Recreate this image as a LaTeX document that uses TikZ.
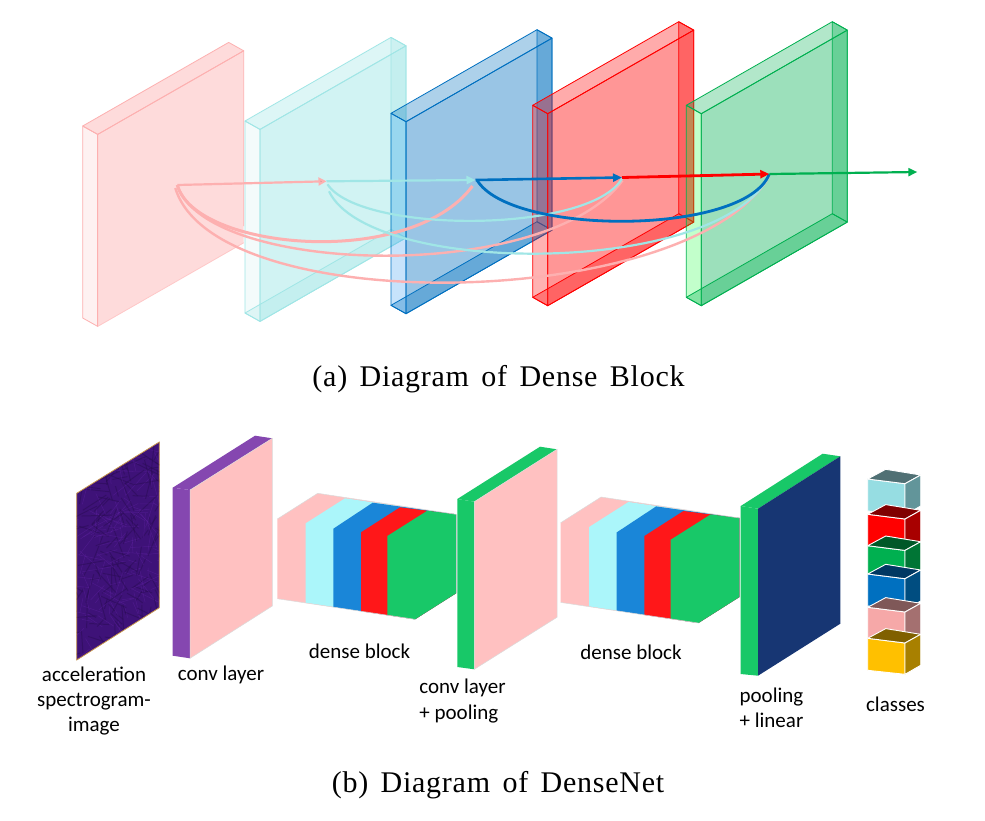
\documentclass[tikz,border=0pt]{standalone}
\usepackage{fontspec}
\usetikzlibrary{arrows.meta}
\setmainfont{Liberation Serif}
\newfontfamily\capfont[LetterSpace=2.5,WordSpace=1.5]{Liberation Serif}
\newfontfamily\labfont{Carlito}
\definecolor{cPink}{HTML}{FDB0B0}
\definecolor{cCyan}{HTML}{A0E6E6}
\definecolor{cBlue}{HTML}{0070C0}
\definecolor{cBlueL}{HTML}{0082F0}
\definecolor{cRed}{HTML}{FF0000}
\definecolor{cGreen}{HTML}{00B050}
\definecolor{bPink}{HTML}{FFC1C1}
\definecolor{bCyan}{HTML}{ABF6FA}
\definecolor{bBlue}{HTML}{1A86D8}
\definecolor{bRed}{HTML}{FF1719}
\definecolor{bGreen}{HTML}{18C868}
\definecolor{bPurple}{HTML}{8547B0}
\definecolor{bNavy}{HTML}{173673}
\definecolor{bSpec}{HTML}{3E1278}
\definecolor{bSpecLine}{HTML}{6424A8}
\definecolor{bSpecDark}{HTML}{2A0C54}
\definecolor{bSpecEdge}{HTML}{C8964A}
\tikzset{
  labeltext/.style={font=\labfont\fontsize{21}{25.5}\selectfont,align=center,inner sep=0pt,text=black},
  captiontext/.style={font=\capfont\fontsize{30}{34}\selectfont,inner sep=0pt,text=black},
  flatedge/.style={draw=black!14,line width=.5pt},
  hopline/.style={line width=2.2pt,-{Triangle[length=9pt,width=8pt]}},
  arcline/.style={line width=2pt},
  cubeedge/.style={draw=white,line width=.9pt,line join=round}
}
% x y stroke fill leftfill aleft atop afront
\newcommand\slab[8]{%
\begin{scope}[shift={(#1,#2)},draw=#3,line width=.8pt,line join=round]
 \path[draw,fill=#5,fill opacity=#6] (0,0)--(15,8.4)--(15,200.4)--(0,192)--cycle;
 \path[draw,fill=#4,fill opacity=#7] (0,0)--(146,-83.6)--(161,-75.2)--(15,8.4)--cycle;
 \path[draw,fill=#4,fill opacity=#8] (15,8.4)--(161,-75.2)--(161,116.8)--(15,200.4)--cycle;
\end{scope}}
% x y stroke fill aextra
\newcommand\slabextra[5]{%
\begin{scope}[shift={(#1,#2)},draw=#3,line width=.8pt,line join=round]
 \path[draw,fill=#4,fill opacity=#5] (146,-83.6)--(161,-75.2)--(161,116.8)--(146,108.4)--cycle;
 \path[draw,fill=#4,fill opacity=#5] (0,192)--(15,200.4)--(161,116.8)--(146,108.4)--cycle;
\end{scope}}
\newcommand\denseblock[2]{%
\begin{scope}[shift={(#1,#2)}]
 \fill[bPink] (277.3,519)--(317.7,493.3)--(456,514.3)--(456,593.3)--(415,619.3)--(277.3,598.7)--cycle;
 \fill[bCyan] (305.7,523.3)--(345,498.3)--(456,514.3)--(456,593.3)--(415,619.3)--(305.7,602.7)--cycle;
 \fill[bBlue] (333.3,528.7)--(372.7,502.7)--(456,514.3)--(456,593.3)--(415,619.3)--(333.3,607)--cycle;
 \fill[bRed] (361,532.3)--(400,507.3)--(456,514.3)--(456,593.3)--(415,619.3)--(361,611.3)--cycle;
 \fill[bGreen] (387.3,536)--(427.3,510.7)--(456,514.3)--(456,593.3)--(415,619.3)--(387.3,615)--cycle;
 \path[flatedge] (277.3,519)--(317.7,493.3)--(456,514.3) (415,619.3)--(277.3,598.7)--cycle;
\end{scope}}
% y front top side
\newcommand\classcube[4]{%
\begin{scope}[shift={(0,#1)}]
 \path[fill=#2,cubeedge] (867.7,0)--(905,4.7)--(905,36)--(867.7,32)--cycle;
 \path[fill=#3,cubeedge] (867.7,0)--(885.7,-9.7)--(920.7,-4)--(905,4.7)--cycle;
 \path[fill=#4,cubeedge] (905,4.7)--(920.7,-4)--(920.7,27)--(905,36)--cycle;
\end{scope}}
\begin{document}
\begin{tikzpicture}[x=1pt,y=-1pt]
\useasboundingbox (0,0) rectangle (985,820);
\fill[white] (0,0) rectangle (985,820);

% ---------- (a) slabs
\begin{scope}[shift={(82.7,126)},draw=cPink,line width=.8pt,line join=round]
 \path[draw,fill=cPink,fill opacity=.17] (0,0)--(15,8.4)--(15,200.4)--(0,192)--cycle;
 \path[draw,fill=cPink,fill opacity=.45] (0,0)--(146,-83.6)--(161,-75.2)--(15,8.4)--cycle;
 \path[fill=cPink,fill opacity=.45] (15,8.4)--(161,-75.2)--(161,116.8)--(15,200.4)--cycle;
 \draw[cPink!70] (15,200.4)--(161,116.8);
 \draw (15,8.4)--(161,-75.2)--(161,100);
 \draw (15,8.4)--(15,200.4);
\end{scope}
\slab{245}{121}{cCyan}{cCyan}{cCyan}{.12}{.35}{.48}
\slabextra{245}{121}{cCyan}{cCyan}{.25}
\slab{391}{113.3}{cBlue}{cBlue}{cBlueL}{.22}{.32}{.4}
\slabextra{391}{113.3}{cBlue}{cBlue}{.33}
\slab{532.7}{105.3}{cRed}{cRed}{cRed}{.3}{.33}{.41}
\slabextra{532.7}{105.3}{cRed}{cRed}{.33}
\slab{686.3}{105.3}{cGreen}{cGreen}{green!85!cyan}{.24}{.3}{.39}
\slabextra{686.3}{105.3}{cGreen}{cGreen}{.33}

% ---------- (a) connectors
\coordinate (n1) at (177.3,185);
\coordinate (n2) at (326.5,181.3);
\coordinate (n3) at (475.5,180);
\coordinate (n4) at (622,177.5);
\coordinate (n5) at (769.3,174);
\coordinate (n6) at (917.3,172);

\draw[cPink,arcline,line width=3pt] (n1) .. controls (195,250) and (410,270) .. ([shift={(-3,6)}]n3);
\draw[cPink,arcline,line width=2.4pt] (n1) .. controls (205,275) and (545,285) .. ([shift={(.5,3)}]n4);
\draw[cPink,arcline,line width=2.4pt] ([shift={(-2,3)}]n1) .. controls (215,320) and (690,312) .. ([shift={(0,2)}]n5);
\draw[cCyan,arcline,line width=2.2pt] ([shift={(1,3)}]n2) .. controls (360,234) and (590,234) .. ([shift={(0,1)}]n4);
\draw[cCyan,arcline,line width=2.2pt] ([shift={(2.5,10)}]n2) .. controls (370,277) and (720,277) .. ([shift={(0,1)}]n5);
\draw[cBlue,arcline,line width=2.8pt] ([shift={(1.5,0)}]n3) .. controls (510,236) and (745,236) .. (n5);
\draw[hopline,cPink,-{Triangle[length=8pt,width=8pt,fill=black!20!cPink]}] (n1) -- (n2);
\draw[hopline,cCyan] (n2) -- (n3);
\draw[hopline,cBlue,line width=2.6pt] (n3) -- (n4);
\draw[hopline,cRed,line width=2.8pt] (n4) -- (n5);
\draw[hopline,cGreen] (n5) -- (n6);

\node[captiontext] (capa) at (498.5,379) {(a) Diagram of Dense Block};

% ---------- (b) spectrogram
\begin{scope}
 \clip (76.7,493.3)--(159.3,442)--(159.3,607.7)--(76.7,660)--cycle;
 \fill[bSpec] (70,435) rectangle (165,665);
 \pgfmathsetseed{42}
 \foreach \i in {1,...,170}{
   \pgfmathsetmacro\px{76+rnd*84}
   \pgfmathsetmacro\py{440+rnd*222}
   \pgfmathsetmacro\ang{rnd*360}
   \pgfmathsetmacro\len{8+rnd*26}
   \draw[bSpecLine,line width=.5pt,opacity=.4] (\px,\py) -- ++(\ang:\len);
   \pgfmathsetmacro\qx{76+rnd*84}
   \pgfmathsetmacro\qy{440+rnd*222}
   \pgfmathsetmacro\bng{rnd*360}
   \draw[bSpecDark,line width=1pt,opacity=.5] (\qx,\qy) -- ++(\bng:\len);
 }
\end{scope}
\path[draw=bSpecEdge,line width=.8pt] (76.7,493.3)--(159.3,442)--(159.3,607.7)--(76.7,660)--cycle;

% ---------- (b) layers
\fill[bPurple] (172.7,487.7)--(190,490)--(190,658.3)--(172.7,655.7)--cycle;
\fill[bPurple] (172.7,487.7)--(255,435.7)--(272.3,438.3)--(190,490)--cycle;
\path[fill=bPink,flatedge] (190,490)--(272.3,438.3)--(272.3,606)--(190,658.3)--cycle;

\denseblock{0}{0}

\fill[bGreen] (457.3,499)--(474.3,501.7)--(474.3,669.3)--(457.3,667)--cycle;
\fill[bGreen] (457.3,499)--(540,446.7)--(557,449.3)--(474.3,501.7)--cycle;
\path[fill=bPink,flatedge] (474.3,501.7)--(557,449.3)--(557,617.3)--(474.3,669.3)--cycle;

\denseblock{283.4}{3.7}

\fill[bGreen] (740.7,506)--(758,508.7)--(758,675.7)--(740.7,674)--cycle;
\fill[bGreen] (740.7,506)--(822.7,453.7)--(840.3,456.3)--(758,508.7)--cycle;
\path[fill=bNavy] (758,508.7)--(840.3,456.3)--(840.3,623.7)--(758,675.7)--cycle;

% ---------- (b) classes
\definecolor{kCyan}{HTML}{96DDE2}\definecolor{kCyanT}{HTML}{507074}\definecolor{kCyanS}{HTML}{62959A}
\definecolor{kRedT}{HTML}{800000}\definecolor{kRedS}{HTML}{A80000}
\definecolor{kGreenT}{HTML}{005828}\definecolor{kGreenS}{HTML}{007535}
\definecolor{kBlueT}{HTML}{003863}\definecolor{kBlueS}{HTML}{004D80}
\definecolor{kPink}{HTML}{F6A8A8}\definecolor{kPinkT}{HTML}{7F5858}\definecolor{kPinkS}{HTML}{A47070}
\definecolor{kYel}{HTML}{FFC000}\definecolor{kYelT}{HTML}{806000}\definecolor{kYelS}{HTML}{A88000}
\classcube{479}{kCyan}{kCyanT}{kCyanS}
\classcube{514.3}{cRed}{kRedT}{kRedS}
\classcube{545.7}{cGreen}{kGreenT}{kGreenS}
\classcube{574}{cBlue}{kBlueT}{kBlueS}
\classcube{607.3}{kPink}{kPinkT}{kPinkS}
\classcube{638.3}{kYel}{kYelT}{kYelS}

% ---------- (b) labels
\node[labeltext] (l1) at (94,701) {acceleration\\spectrogram-\\image};
\node[labeltext] (l2) at (221,675) {conv layer};
\node[labeltext] (l3) at (359.5,651) {dense block};
\node[labeltext,align=left] (l4) at (462.5,701) {conv layer\\+ pooling};
\node[labeltext] (l5) at (631,652.5) {dense block};
\node[labeltext,align=left] (l6) at (771.5,708) {pooling\\+ linear};
\node[labeltext] (l7) at (895.5,704.5) {classes};
\node[captiontext] (capb) at (498,785) {(b) Diagram of DenseNet};
\end{tikzpicture}
\end{document}
